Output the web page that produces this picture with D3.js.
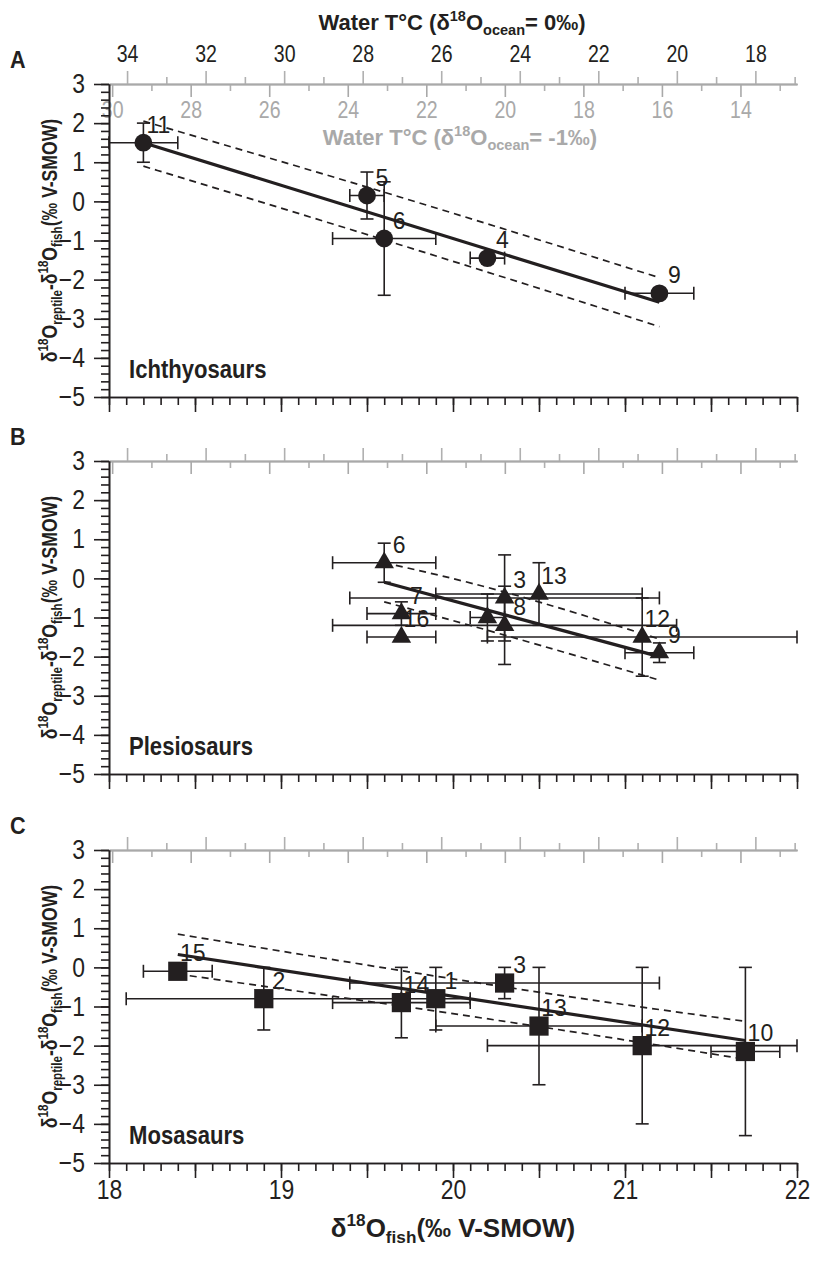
<!DOCTYPE html>
<html>
<head>
<meta charset="utf-8">
<script src="https://cdn.jsdelivr.net/npm/d3@7"></script>
<style>
  body { margin: 0; background: #fff; }
</style>
</head>
<body>
<div id="chart"></div>
<script>
const FONT = '"Liberation Sans", Arial, sans-serif'
const INK = '#231f20'
const GREY = '#b0b0b0'

// shared axes
const fishTicks = [18, 19, 20, 21, 22]
const diffTicks = [-5, -4, -3, -2, -1, 0, 1, 2, 3]
const tempTicksOcean0 = [34, 32, 30, 28, 26, 24, 22, 20, 18]
const tempTicksOcean1 = [30, 28, 26, 24, 22, 20, 18, 16, 14]
const oceanValues = [0, -1]
const kolodny = [113.3, 4.38]   // T = a - b (d18Ofish - d18Oocean)

// A - ichthyosaurs
const ichX = [18.2, 19.5, 19.6, 20.2, 21.2]
const ichY = [1.5, 0.15, -0.95, -1.45, -2.35]
const ichXErr = [0.2, 0.1, 0.3, 0.1, 0.2]
const ichYErr = [0.5, 0.6, 1.45, 0, 0]
const ichN = ['11', '5', '6', '4', '9']
const ichFit = [[18.2, 1.5], [21.2, -2.58]]
const ichUpper = [[18.2, 2.05], [19.7, 0.1], [21.2, -1.95]]
const ichLower = [[18.2, 0.9], [19.7, -1.12], [21.2, -3.2]]

// B - plesiosaurs
const pleX = [19.6, 19.7, 19.7, 20.2, 20.3, 20.3, 20.5, 21.1, 21.2]
const pleY = [0.4, -0.9, -1.5, -1.0, -0.5, -1.2, -0.4, -1.5, -1.9]
const pleXErr = [0.3, 0.2, 0.2, 0.1, 0.9, 1.0, 0.6, 0.9, 0.2]
const pleYErr = [0.5, 0.3, 0, 0.6, 1.1, 1.0, 0.8, 1.0, 0.25]
const pleN = ['6', '7', '16', '', '3', '8', '13', '12', '9']
const pleFit = [[19.6, -0.1], [21.2, -2.0]]
const pleUpper = [[19.6, 0.4], [20.3, -0.35], [21.2, -1.55]]
const pleLower = [[19.6, -0.6], [20.3, -1.45], [21.2, -2.6]]

// C - mosasaurs
const mosX = [18.4, 18.9, 19.7, 19.9, 20.3, 20.5, 21.1, 21.7]
const mosY = [-0.1, -0.8, -0.9, -0.8, -0.4, -1.5, -2.0, -2.15]
const mosXErr = [0.2, 0.8, 0.4, 0.2, 0.9, 0.6, 0.9, 0.2]
const mosYErr = [0, 0.8, 0.9, 0.8, 0.4, 1.5, 2.0, 2.15]
const mosN = ['15', '2', '14', '1', '3', '13', '12', '10']
const mosFit = [[18.4, 0.33], [21.7, -1.87]]
const mosUpper = [[18.4, 0.85], [20.3, -0.5], [21.7, -1.38]]
const mosLower = [[18.4, -0.17], [20.3, -1.38], [21.7, -2.35]]

const panels = [
  { letter: 'A', name: 'Ichthyosaurs', shape: 'circle', xs: ichX, ys: ichY, xe: ichXErr, ye: ichYErr, n: ichN, fit: ichFit, up: ichUpper, lo: ichLower },
  { letter: 'B', name: 'Plesiosaurs', shape: 'triangle', xs: pleX, ys: pleY, xe: pleXErr, ye: pleYErr, n: pleN, fit: pleFit, up: pleUpper, lo: pleLower },
  { letter: 'C', name: 'Mosasaurs', shape: 'square', xs: mosX, ys: mosY, xe: mosXErr, ye: mosYErr, n: mosN, fit: mosFit, up: mosUpper, lo: mosLower }
]

const width = 814
const height = 1263
const panelTops = [84, 461, 850]
const panelH = 313

const svg = d3.select('#chart')
              .append('svg')
              .attr('width', width)
              .attr('height', height)

const x = d3.scaleLinear().domain([18, 22]).range([109, 797])
const toTemp = (d, w) => kolodny[0] - kolodny[1] * (d - w)

// text with super/subscripts
const rich = (sel, parts, fs) => {
    let shift = 0
    parts.forEach(([t, k]) => {
        const target = k === 'sup' ? -0.42 * fs : k === 'sub' ? 0.22 * fs : 0
        sel.append('tspan')
           .attr('dy', target - shift)
           .attr('font-size', k ? fs * 0.66 : fs)
           .text(t)
        shift = target
    })
}

// narrow the tick labels a bit, the original uses a condensed face
const styleAxis = (sel, color, fs, weight, sx = 1) => {
    sel.attr('font-family', FONT).attr('font-size', fs)
    sel.select('.domain').attr('stroke', color).attr('stroke-width', weight)
    sel.selectAll('.tick line').attr('stroke', color).attr('stroke-width', weight)
    sel.selectAll('.tick text')
       .attr('fill', color)
       .attr('x', function () { return (+d3.select(this).attr('x') || 0) / sx })
       .attr('transform', `scale(${sx},1)`)
}

const inDomain = (scale, v) => {
    const [a, b] = d3.extent(scale.domain())
    return v >= a && v <= b
}

panels.forEach((p, i) => {
    const top = panelTops[i]
    const bottom = top + panelH
    const y = d3.scaleLinear().domain([-5, 3]).range([bottom, top])
    const g = svg.append('g')

    // grey temperature axes along the top
    const t0 = d3.scaleLinear().domain([toTemp(18, oceanValues[0]), toTemp(22, oceanValues[0])]).range(x.range())
    const t1 = d3.scaleLinear().domain([toTemp(18, oceanValues[1]), toTemp(22, oceanValues[1])]).range(x.range())
    const odd = s => d3.range(10, 40).filter(v => v % 2 !== 0 && inDomain(s, v))

    g.append('g')
     .attr('transform', `translate(0, ${top})`)
     .call(d3.axisTop(t0).tickValues(odd(t0)).tickSize(7).tickSizeOuter(0).tickFormat(''))
     .call(s => styleAxis(s, GREY, 22, 1.6))
    g.append('g')
     .attr('transform', `translate(0, ${top})`)
     .call(d3.axisTop(t0).tickValues(tempTicksOcean0).tickSize(13).tickSizeOuter(0).tickPadding(9)
             .tickFormat(i === 0 ? d3.format('d') : ''))
     .call(s => styleAxis(s, GREY, 23, 1.6, 0.85))
     .call(s => s.selectAll('.tick text').attr('fill', INK))
    g.append('g')
     .attr('transform', `translate(0, ${top})`)
     .call(d3.axisBottom(t1).tickValues(odd(t1)).tickSize(7).tickSizeOuter(0).tickFormat(''))
     .call(s => styleAxis(s, GREY, 22, 1.6))
    g.append('g')
     .attr('transform', `translate(0, ${top})`)
     .call(d3.axisBottom(t1).tickValues(tempTicksOcean1).tickSize(13).tickSizeOuter(0).tickPadding(5)
             .tickFormat(i === 0 ? d3.format('d') : ''))
     .call(s => styleAxis(s, '#a9a9a9', 23, 1.6, 0.85))

    if (i === 0) {
        const tt = g.append('text')
                    .attr('x', 452).attr('y', 30)
                    .attr('text-anchor', 'middle')
                    .attr('font-family', FONT).attr('font-weight', 'bold')
                    .attr('fill', INK)
        rich(tt, [['Water T°C (δ'], ['18', 'sup'], ['O'], ['ocean', 'sub'], ['= 0‰)']], 22)
        const st = g.append('text')
                    .attr('x', 460).attr('y', 145)
                    .attr('text-anchor', 'middle')
                    .attr('font-family', FONT).attr('font-weight', 'bold')
                    .attr('fill', '#a9a9a9')
        rich(st, [['Water T°C (δ'], ['18', 'sup'], ['O'], ['ocean', 'sub'], ['= -1‰)']], 22)
    }

    // black axes
    const last = i === panels.length - 1
    g.append('g')
     .attr('transform', `translate(0, ${bottom})`)
     .call(d3.axisBottom(x).tickValues(d3.range(18, 22.001, 0.1)).tickSize(8).tickSizeOuter(0).tickFormat(''))
     .call(s => styleAxis(s, INK, 27, 1.6))
    g.append('g')
     .attr('transform', `translate(0, ${bottom})`)
     .call(d3.axisBottom(x).tickValues(d3.range(18, 22.001, 0.5)).tickSize(15).tickSizeOuter(0).tickPadding(1)
             .tickFormat(d => last && fishTicks.includes(d) ? d : ''))
     .call(s => styleAxis(s, INK, 28, 1.6, 0.82))

    g.append('g')
     .attr('transform', `translate(${x.range()[0]}, 0)`)
     .call(d3.axisLeft(y).tickValues(d3.range(-5, 3.001, 0.2)).tickSize(8).tickSizeOuter(0).tickFormat(''))
     .call(s => styleAxis(s, INK, 26, 1.6))
    g.append('g')
     .attr('transform', `translate(${x.range()[0]}, 0)`)
     .call(d3.axisLeft(y).tickValues(diffTicks).tickSize(15).tickSizeOuter(0).tickPadding(9).tickFormat(d3.format('d')))
     .call(s => styleAxis(s, INK, 27, 1.6, 0.85))

    const yt = g.append('text')
                .attr('transform', `translate(57, ${(top + bottom) / 2}) rotate(-90) scale(0.8,1)`)
                .attr('text-anchor', 'middle')
                .attr('font-family', FONT).attr('font-weight', 'bold')
                .attr('fill', INK)
    rich(yt, [['δ'], ['18', 'sup'], ['O'], ['reptile', 'sub'], ['-δ'], ['18', 'sup'], ['O'], ['fish', 'sub'], ['(‰ V-SMOW)']], 22)

    g.append('text')
     .attr('transform', `translate(10, ${top - 16}) scale(0.9,1)`)
     .attr('font-family', FONT).attr('font-weight', 'bold').attr('font-size', 24)
     .attr('fill', INK)
     .text(p.letter)

    g.append('text')
     .attr('transform', `translate(129, ${bottom - 19}) scale(0.85,1)`)
     .attr('font-family', FONT).attr('font-weight', 'bold').attr('font-size', 26)
     .attr('fill', INK)
     .text(p.name)

    // regression and confidence band
    const line = d3.line().x(d => x(d[0])).y(d => y(d[1])).curve(d3.curveNatural)
    ;[p.up, p.lo].forEach(band => {
        g.append('path')
         .datum(band)
         .attr('fill', 'none')
         .attr('stroke', INK)
         .attr('stroke-width', 1.7)
         .attr('stroke-dasharray', '7,5')
         .attr('d', line)
    })
    g.append('path')
     .datum(p.fit)
     .attr('fill', 'none')
     .attr('stroke', INK)
     .attr('stroke-width', 3.2)
     .attr('d', line)

    // error bars
    const pts = p.xs.map((v, k) => ({ x: v, y: p.ys[k], xe: p.xe[k], ye: p.ye[k], n: p.n[k] }))
    const cap = 6.5
    const eb = g.append('g').attr('stroke', INK).attr('stroke-width', 1.6)
    pts.forEach(d => {
        if (d.xe > 0) {
            eb.append('line').attr('x1', x(d.x - d.xe)).attr('x2', x(d.x + d.xe)).attr('y1', y(d.y)).attr('y2', y(d.y))
            ;[d.x - d.xe, d.x + d.xe].forEach(e => {
                eb.append('line').attr('x1', x(e)).attr('x2', x(e)).attr('y1', y(d.y) - cap).attr('y2', y(d.y) + cap)
            })
        }
        if (d.ye > 0) {
            eb.append('line').attr('x1', x(d.x)).attr('x2', x(d.x)).attr('y1', y(d.y - d.ye)).attr('y2', y(d.y + d.ye))
            ;[d.y - d.ye, d.y + d.ye].forEach(e => {
                eb.append('line').attr('x1', x(d.x) - cap).attr('x2', x(d.x) + cap).attr('y1', y(e)).attr('y2', y(e))
            })
        }
    })

    // markers
    const sym = { circle: d3.symbolCircle, triangle: d3.symbolTriangle, square: d3.symbolSquare }[p.shape]
    const size = { circle: 250, triangle: 165, square: 370 }[p.shape]
    g.selectAll('.mark')
     .data(pts)
     .enter()
     .append('path')
     .attr('transform', d => `translate(${x(d.x)}, ${y(d.y)})`)
     .attr('d', d3.symbol().type(sym).size(size))
     .attr('fill', INK)

    g.selectAll('.num')
     .data(pts)
     .enter()
     .append('text')
     .attr('x', d => x(d.x) + 15)
     .attr('y', d => y(d.y) - 10)
     .attr('text-anchor', 'middle')
     .attr('font-family', FONT)
     .attr('font-size', 23)
     .attr('fill', INK)
     .text(d => d.n)
})

const xt = svg.append('text')
              .attr('x', 453).attr('y', 1237)
              .attr('text-anchor', 'middle')
              .attr('font-family', FONT).attr('font-weight', 'bold')
              .attr('fill', INK)
rich(xt, [['δ'], ['18', 'sup'], ['O'], ['fish', 'sub'], ['(‰ V-SMOW)']], 26)
</script>
</body>
</html>
